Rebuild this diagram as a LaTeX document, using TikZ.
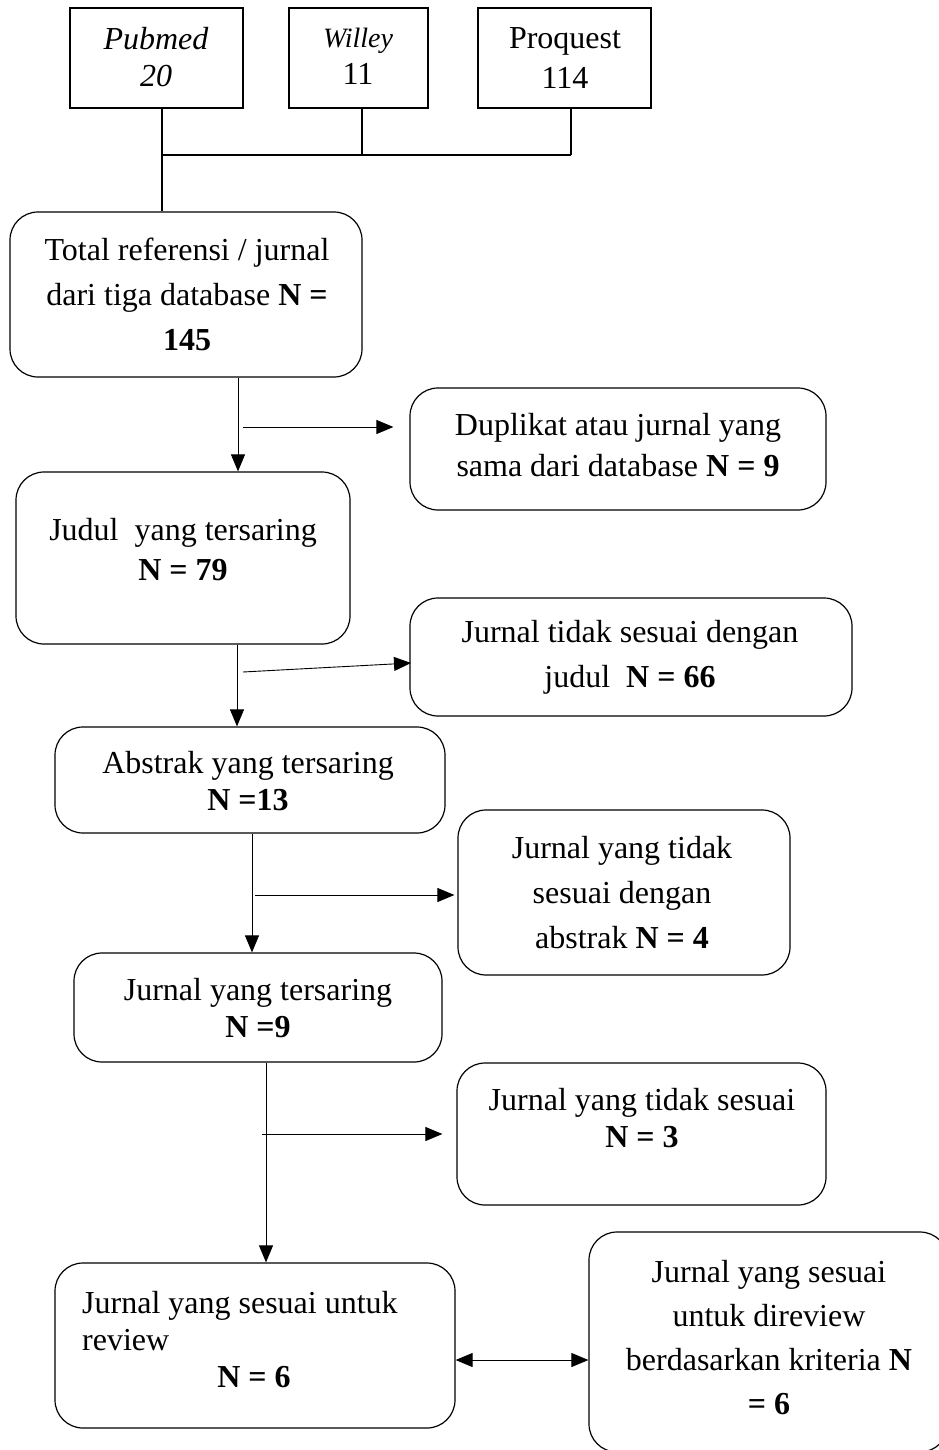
\documentclass[tikz,border=0pt]{standalone}
\usepackage{fontspec}
\setmainfont{Liberation Serif}
\usetikzlibrary{arrows.meta,calc}
\tikzset{
  rbox/.style={draw, line width=1.2pt, rounded corners=28pt, inner sep=0pt},
  sbox/.style={draw, line width=1.6pt, inner sep=0pt},
  txt/.style={align=center, inner sep=0pt, font=\fontsize{32}{#1}\selectfont},
  txt/.default=44,
  conn/.style={line width=1.2pt},
  arr/.style={line width=0.9pt, -{Triangle[length=17pt,width=14pt]}},
  darr/.style={line width=0.9pt, {Triangle[length=17pt,width=14pt]}-{Triangle[length=17pt,width=14pt]}},
}
\begin{document}
\begin{tikzpicture}[x=1pt,y=-1pt]
\useasboundingbox (0,0) rectangle (939,1450);
% top boxes
\node[sbox, minimum width=173pt, minimum height=100pt] (pub) at (156.5,58) {};
\node[sbox, minimum width=139pt, minimum height=100pt] (wil) at (358.5,58) {};
\node[sbox, minimum width=173pt, minimum height=100pt] (pro) at (564.5,58) {};
\node[txt=37] (pubT) at (156,57) {\itshape Pubmed\\\itshape 20};
\node[txt=37] (wilT) at (358,56) {{\fontsize{28}{37}\selectfont\itshape Willey}\\11};
\node[txt=40] (proT) at (565,58) {Proquest\\114};
% flow boxes
\node[rbox, minimum width=352pt, minimum height=165pt] (total) at (186,294.5) {};
\node[txt=45] (totalT) at (187,294) {Total referensi / jurnal\\dari tiga database \textbf{N =}\\\textbf{145}};
\node[rbox, minimum width=416pt, minimum height=122pt] (dup) at (618,449) {};
\node[txt=41] (dupT) at (618,445) {Duplikat atau jurnal yang\\sama dari database \textbf{N = 9}};
\node[rbox, minimum width=334pt, minimum height=172pt] (judul) at (183,558) {};
\node[txt=40] (judulT) at (183,550) {Judul\ \ yang tersaring\\\textbf{N = 79}};
\node[rbox, minimum width=442pt, minimum height=118pt] (jex) at (631,657) {};
\node[txt=45] (jexT) at (630,657) {Jurnal tidak sesuai dengan\\judul\ \ \textbf{N = 66}};
\node[rbox, minimum width=390pt, minimum height=106pt] (abs) at (250,780) {};
\node[txt=37] (absT) at (248,781) {Abstrak yang tersaring\\\textbf{N =13}};
\node[rbox, minimum width=332pt, minimum height=165pt] (aex) at (624,892.5) {};
\node[txt=45] (aexT) at (622,893) {Jurnal yang tidak\\sesuai dengan\\abstrak \textbf{N = 4}};
\node[rbox, minimum width=368pt, minimum height=109pt] (ters) at (258,1007.5) {};
\node[txt=37] (tersT) at (258,1008) {Jurnal yang tersaring\\\textbf{N =9}};
\node[rbox, minimum width=369pt, minimum height=142pt] (tex) at (641.5,1134) {};
\node[txt=37] (texT) at (642,1118) {Jurnal yang tidak sesuai\\\textbf{N = 3}};
\node[rbox, minimum width=400pt, minimum height=165pt] (ses) at (255,1345.5) {};
\node[txt=37, align=left, anchor=west] (sesT) at (82,1321) {Jurnal yang sesuai untuk\\review};
\node[txt] (sesN) at (254,1377) {\textbf{N = 6}};
\node[rbox, minimum width=359pt, minimum height=220pt] (fin) at (768.5,1342) {};
\node[txt=44] (finT) at (769,1338) {Jurnal yang sesuai\\untuk direview\\berdasarkan kriteria \textbf{N}\\\textbf{= 6}};
% top connectors
\coordinate (b1) at (162,155);
\coordinate (b2) at (362,155);
\coordinate (b3) at (571,155);
\draw[conn] (pub.south -| b1) -- (b1);
\draw[conn] (wil.south -| b2) -- (b2);
\draw[conn] (pro.south -| b3) -- (b3);
\draw[conn] (b1) -- (b3);
\draw[conn] (b1) -- (total.north -| b1);
% flow connectors
\coordinate (v1) at (238,0);
\coordinate (h1) at (243,427);
\draw[arr] (total.south -| v1) -- (judul.north -| v1);
\draw[arr] (h1) -- ($(dup.west |- h1)+(-16,0)$);
\coordinate (v2) at (237,0);
\coordinate (h2) at (243,672);
\coordinate (h2e) at (411,663);
\draw[arr] (judul.south -| v2) -- (abs.north -| v2);
\draw[arr] (h2) -- (h2e);
\coordinate (v3) at (252,0);
\coordinate (h3) at (255,895);
\draw[arr] (abs.south -| v3) -- (ters.north -| v3);
\draw[arr] (h3) -- ($(aex.west |- h3)+(-3,0)$);
\coordinate (v4) at (266,0);
\coordinate (h4) at (262,1134);
\draw[arr] (ters.south -| v4) -- (ses.north -| v4);
\draw[arr] (h4) -- ($(tex.west |- h4)+(-14,0)$);
\coordinate (h5) at (0,1360);
\draw[darr] (ses.east |- h5) -- (fin.west |- h5);
\end{tikzpicture}
\end{document}
